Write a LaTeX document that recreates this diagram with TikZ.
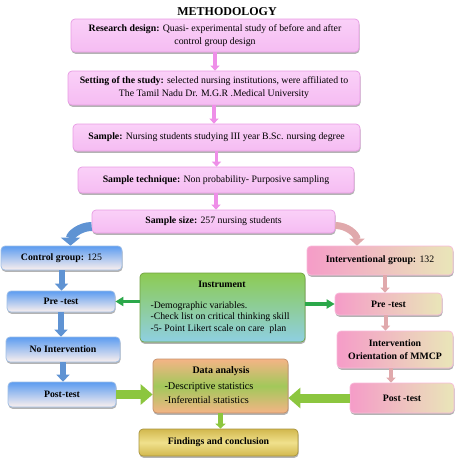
\documentclass[tikz,border=0pt]{standalone}
\usepackage{fontspec}
\setmainfont{Liberation Serif}
\usetikzlibrary{arrows.meta,shadows}
\definecolor{pinktop}{HTML}{FAD0F8}
\definecolor{pinkbot}{HTML}{F5BCF2}
\definecolor{pinkline}{HTML}{E79BE3}
\definecolor{pinkarrow}{HTML}{EE8FE8}
\definecolor{bluetop}{HTML}{5C9CF0}
\definecolor{bluebot}{HTML}{FBF0EE}
\definecolor{bluearrow}{HTML}{5F93D3}
\definecolor{rosetop}{HTML}{F59CC8}
\definecolor{tanbot}{HTML}{E9E6B8}
\definecolor{rosearrow}{HTML}{E0A9AC}
\definecolor{insgreen}{HTML}{8DCB52}
\definecolor{insblue}{HTML}{8ECFE2}
\definecolor{greenarrow}{HTML}{2BA84A}
\definecolor{datorange}{HTML}{F4B486}
\definecolor{datgreen}{HTML}{A2C85A}
\definecolor{limearrow}{HTML}{8CC63F}
\definecolor{goldtop}{HTML}{D2B84E}
\definecolor{goldmid}{HTML}{F0E08C}

\begin{document}
\begin{tikzpicture}[x=1pt, y=-1pt, font=\fontsize{9.8}{13}\selectfont,
		box/.style={rounded corners=4pt, line width=0.7pt, align=center, inner sep=2pt,
			drop shadow={shadow xshift=0.5pt, shadow yshift=-1.8pt, opacity=0.6}},
		pinkbox/.style={box, draw=pinkline, top color=pinktop, bottom color=pinkbot},
		bluebox/.style={box, draw=bluearrow!60, top color=bluetop, bottom color=bluebot},
		rosebox/.style={box, draw=rosetop!70, left color=rosetop, right color=tanbot},
		insbox/.style={box, draw=insgreen!80!black, top color=insgreen, bottom color=insblue},
		datbox/.style={box, draw=datorange!80!black, top color=datorange, bottom color=datorange, middle color=datgreen},
		fndbox/.style={box, draw=goldtop!80!black, top color=goldtop, bottom color=goldtop, middle color=goldmid},
		pinkarr/.style={draw=pinkarrow, line width=3.5pt, -{Triangle[length=5pt,width=9pt]}},
		bluearr/.style={draw=bluearrow, line width=6pt, -{Triangle[length=7pt,width=13pt]}},
		rosearr/.style={draw=rosearrow, line width=4pt, -{Triangle[length=5pt,width=9pt]}},
		greenarr/.style={draw=greenarrow, line width=3.5pt, -{Triangle[length=8pt,width=9pt]}},
		limearr/.style={draw=limearrow, line width=9pt, -{Triangle[length=12pt,width=20pt]}},
		limesmall/.style={draw=limearrow, line width=5pt, -{Triangle[length=5pt,width=10pt]}}]
		\useasboundingbox (0,0) rectangle (455,469);
		\node[font=\fontsize{12}{14}\selectfont\bfseries] (ttl) at (227,12) {METHODOLOGY};
		% main column
		\node[pinkbox, minimum width=288, minimum height=33] (rd) at (215,35.5) {\textbf{Research design:} Quasi- experimental study of before and after\\control group design};
		\node[pinkbox, minimum width=292, minimum height=34] (st) at (214,88) {\textbf{Setting of the study:} selected nursing institutions, were affiliated to\\The Tamil Nadu Dr. M.G.R .Medical University};
		\node[pinkbox, minimum width=287, minimum height=27] (sm) at (216.5,137.5) {\textbf{Sample:} Nursing students studying III year B.Sc. nursing degree};
		\node[pinkbox, minimum width=276, minimum height=26] (tq) at (216,180) {\textbf{Sample technique:} Non probability- Purposive sampling};
		\node[pinkbox, minimum width=243, minimum height=23] (sz) at (213.5,221.5) {\textbf{Sample size:} 257 nursing students};
		\draw[pinkarr] (rd.south) -- (rd.south |- st.north);
		\draw[pinkarr] (st.south) -- (st.south |- sm.north);
		\draw[pinkarr] (sm.south) -- (sm.south |- tq.north);
		\draw[pinkarr] (tq.south) -- (tq.south |- sz.north);
		% control group
		\node[bluebox, minimum width=121, minimum height=24] (cg) at (61.5,258) {\textbf{Control group:} 125};
		\node[bluebox, minimum width=108, minimum height=21] (pl) at (61,301.5) {\textbf{Pre -test}};
		\node[bluebox, minimum width=114, minimum height=25] (ni) at (63,349.5) {\textbf{No Intervention}};
		\node[bluebox, minimum width=108, minimum height=25] (ql) at (62,394.5) {\textbf{Post-test}};
		\draw[bluearr] (cg.south) -- (cg.south |- pl.north);
		\draw[bluearr] (pl.south) -- (pl.south |- ni.north);
		\draw[bluearr] (ni.south) -- (ni.south |- ql.north);
		\draw[draw=bluearrow, line width=9pt, -{Triangle[length=8pt,width=19pt]}] ([yshift=-5pt]sz.west) to[out=180,in=90] ([xshift=9pt]cg.north);
		% interventional group
		\node[rosebox, minimum width=146, minimum height=29] (ig) at (380,260.5) {\textbf{Interventional group:} 132};
		\node[rosebox, minimum width=107, minimum height=22] (pr) at (388.5,304) {\textbf{Pre -test}};
		\node[rosebox, minimum width=116, minimum height=37] (iv) at (395,349.5) {\textbf{Intervention}\\\textbf{Orientation of MMCP}};
		\node[rosebox, minimum width=104, minimum height=30] (qr) at (402,398) {\textbf{Post -test}};
		\draw[rosearr] ([xshift=5pt]ig.south) -- ([xshift=5pt]ig.south |- pr.north);
		\draw[rosearr] ([xshift=-3pt]pr.south) -- ([xshift=-3pt]pr.south |- iv.north);
		\draw[rosearr] ([xshift=-4pt]iv.south) -- ([xshift=-4pt]iv.south |- qr.north);
		\draw[draw=rosearrow, line width=7pt, -{Triangle[length=7pt,width=15pt]}] ([yshift=-4pt]sz.east) to[out=0,in=90] ([xshift=-23pt]ig.north);
		% instrument
		\node[insbox, minimum width=165, minimum height=69] (in) at (222.5,307.5) {};
		\node[font=\fontsize{9.8}{11.5}\selectfont\bfseries] (intl) at (222,284.5) {Instrument};
		\node[anchor=west, align=left, font=\fontsize{9.8}{11.5}\selectfont] (inls) at (147,317.5) {-Demographic variables.\\-Check list on critical thinking skill\\-5- Point Likert scale on care\ \ plan};
		\draw[greenarr] (in.west |- pl) -- (pl.east);
		\draw[greenarr] (in.east |- pr) -- (pr.west);
		% analysis
		\node[datbox, minimum width=135, minimum height=54] (da) at (220.5,386) {};
		\node[font=\fontsize{10}{12}\selectfont\bfseries] (datl) at (221,371) {Data analysis};
		\node[anchor=west, align=left, font=\fontsize{10.3}{14}\selectfont] (dals) at (161,393) {-Descriptive statistics\\-Inferential statistics};
		\node[fndbox, minimum width=159, minimum height=27] (fc) at (218.5,442.5) {\textbf{Findings and conclusion}};
		\draw[limearr] (ql.east) -- (da.west |- ql.east);
		\draw[limearr] (qr.west) -- (da.east |- qr.west);
		\draw[limesmall] (da.south) -- (da.south |- fc.north);
	\end{tikzpicture}
\end{document}
